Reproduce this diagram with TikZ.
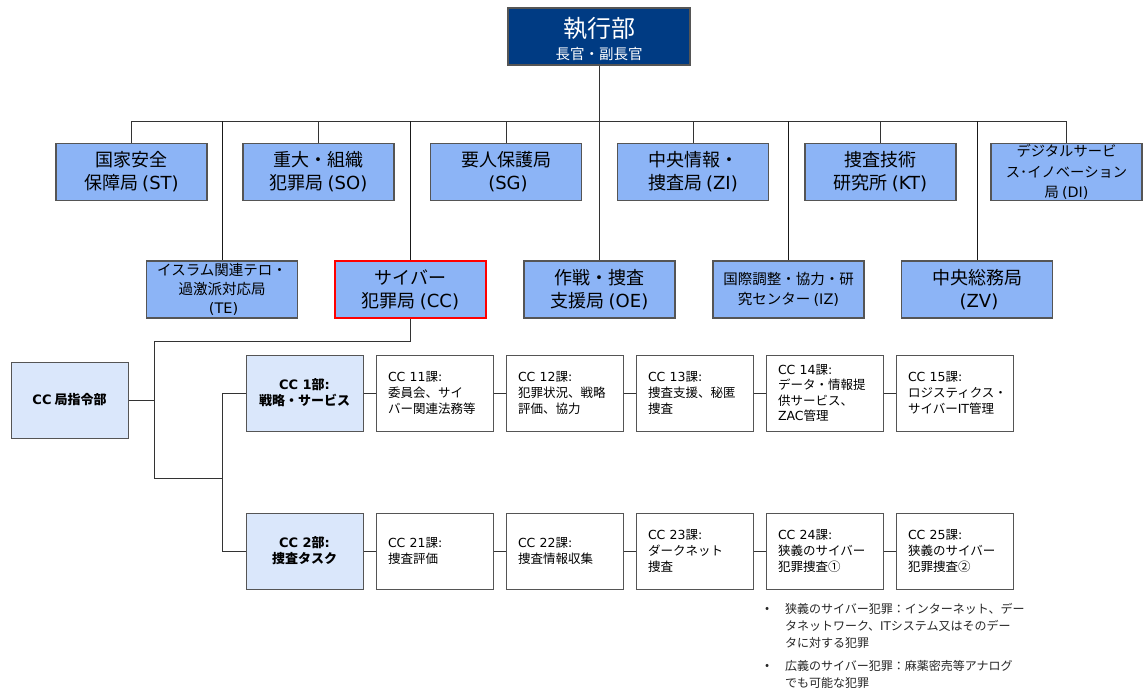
\documentclass[tikz,border=0pt]{standalone}
\usepackage{fontspec}
\setmainfont{Noto Sans CJK JP}
\newfontfamily\latf{DejaVu Sans}
\newcommand\ltn[1]{{\latf #1}}
\newcommand\pl[1]{\hspace{0.22em}{\latf(#1)}\hspace{0.22em}}
\definecolor{navy}{RGB}{0,59,131}
\definecolor{bureaublue}{RGB}{140,180,246}
\definecolor{deptblue}{RGB}{218,231,251}
\definecolor{edge}{RGB}{85,85,85}
\begin{document}
\begin{tikzpicture}[x=1pt,y=-1pt,
  conn/.style={draw=black!80, line width=1pt},
  bureau/.style={draw=edge, line width=1.1pt, fill=bureaublue, minimum width=151pt, minimum height=57pt, inner sep=0pt, align=center, font=\fontsize{18}{23}\selectfont},
  bureausm/.style={bureau, font=\fontsize{14.5}{19.5}\selectfont},
  dept/.style={draw=edge, line width=1pt, fill=deptblue, minimum width=117pt, minimum height=76pt, inner sep=0pt, align=center, font=\bfseries\fontsize{13}{16}\selectfont},
  unitbox/.style={draw=edge, line width=1pt, fill=white, text width=93pt, inner xsep=12pt, inner ysep=0pt, minimum height=76pt, align=left, font=\fontsize{12.5}{16}\selectfont},
  note/.style={anchor=north west, inner sep=0pt, align=left, text=black!85, font=\fontsize{12}{17}\selectfont}
]
\useasboundingbox (0,0) rectangle (1143,693);

% top
\node[draw=edge, line width=1.1pt, fill=navy, minimum width=182pt, minimum height=57pt, inner sep=0pt] (exec) at (599,36.5) {};
\node[text=white, inner sep=0pt, align=center, font=\fontsize{24}{24}\selectfont] (execlabel) at (599,39.5) {執行部\\[-2pt]\fontsize{14.5}{15}\selectfont 長官・副長官};

% row 1
\node[bureau] (ST) at (131.5,172) {国家安全\\保障局\pl{ST}};
\node[bureau] (SO) at (318.5,172) {重大・組織\\犯罪局\pl{SO}};
\node[bureau] (SG) at (506,172) {要人保護局\\\pl{SG}};
\node[bureau] (ZI) at (693,172) {中央情報・\\捜査局\pl{ZI}};
\node[bureau] (KT) at (880.5,172) {捜査技術\\研究所\pl{KT}};
\node[bureau, font=\fontsize{14.3}{20.5}\selectfont] (DI) at (1066.5,172) {デジタルサービ\\ス･イノベーション\\局\pl{DI}};

% row 2
\node[bureausm, font=\fontsize{14.5}{19}\selectfont] (TE) at (222,289.5) {イスラム関連テロ・\\過激派対応局\\\pl{TE}};
\node[bureau, draw=red, line width=2.5pt] (CC) at (410.5,289.5) {サイバー\\犯罪局\pl{CC}};
\node[bureau] (OE) at (599.5,289.5) {作戦・捜査\\支援局\pl{OE}};
\node[bureausm, font=\fontsize{14.5}{20}\selectfont] (IZ) at (788.5,289.5) {国際調整・協力・研\\究センター\pl{IZ}};
\node[bureau] (ZV) at (977,289.5) {中央総務局\\\pl{ZV}};

% bus
\coordinate (busy) at (0,121);
\draw[conn] (exec.south) -- (exec.south |- OE.north);
\draw[conn] (ST.north |- busy) -- (DI.north |- busy);
\foreach \n in {ST,SO,SG,ZI,KT,DI}
  \draw[conn] (\n.north |- busy) -- (\n.north);
\foreach \n in {TE,CC,IZ,ZV}
  \draw[conn, draw=black!90] (\n.north |- busy) -- (\n.north);

% departments
\node[dept] (HQ) at (69.5,400) {\ltn{CC} 局指令部};
\node[dept] (CC1) at (304.5,393) {\ltn{CC 1}部\ltn{:}\\戦略・サービス};
\node[dept] (CC2) at (304.5,551) {\ltn{CC 2}部\ltn{:}\\捜査タスク};

\node[unitbox] (CC11) at (434.5,393) {\ltn{CC 11}課\ltn{:}\\委員会、サイ\\バー関連法務等};
\node[unitbox] (CC12) at (564.5,393) {\ltn{CC 12}課\ltn{:}\\犯罪状況、戦略\\評価、協力};
\node[unitbox] (CC13) at (694.5,393) {\ltn{CC 13}課\ltn{:}\\捜査支援、秘匿\\捜査};
\node[unitbox, font=\fontsize{12.5}{15.5}\selectfont] (CC14) at (824.5,393) {\ltn{CC 14}課\ltn{:}\\データ・情報提\\供サービス、\\\ltn{ZAC}管理};
\node[unitbox] (CC15) at (954.5,393) {\ltn{CC 15}課\ltn{:}\\ロジスティクス・\\サイバー\ltn{IT}管理};

\node[unitbox] (CC21) at (434.5,551) {\ltn{CC 21}課\ltn{:}\\捜査評価};
\node[unitbox] (CC22) at (564.5,551) {\ltn{CC 22}課\ltn{:}\\捜査情報収集};
\node[unitbox] (CC23) at (694.5,551) {\ltn{CC 23}課\ltn{:}\\ダークネット\\捜査};
\node[unitbox] (CC24) at (824.5,551) {\ltn{CC 24}課\ltn{:}\\狭義のサイバー\\犯罪捜査①};
\node[unitbox] (CC25) at (954.5,551) {\ltn{CC 25}課\ltn{:}\\狭義のサイバー\\犯罪捜査②};

% CC connections
\coordinate (ja) at (154.5,341);
\coordinate (jb) at (154.5,478);
\coordinate (jc) at (222,478);
\draw[conn] (CC.south) |- (ja) -- (jb) -- (jc);
\draw[conn] (HQ.east) -- (HQ.east -| ja);
\draw[conn] (CC1.west) -- (CC1.west -| jc) -- (CC2.west -| jc) -- (CC2.west);
\draw[conn] (CC1.east) -- (CC11.west) (CC11.east) -- (CC12.west) (CC12.east) -- (CC13.west) (CC13.east) -- (CC14.west) (CC14.east) -- (CC15.west);
\draw[conn] (CC2.east) -- (CC21.west) (CC21.east) -- (CC22.west) (CC22.east) -- (CC23.west) (CC23.east) -- (CC24.west) (CC24.east) -- (CC25.west);

% notes
\node[note] (n1b) at (765,607) {•};
\node[note] (n1) at (785,603) {狭義のサイバー犯罪：インターネット、デー\\タネットワーク、\ltn{IT}システム又はそのデー\\タに対する犯罪};
\node[note] (n2b) at (765,664) {•};
\node[note] (n2) at (785,660) {広義のサイバー犯罪：麻薬密売等アナログ\\でも可能な犯罪};
\end{tikzpicture}
\end{document}
